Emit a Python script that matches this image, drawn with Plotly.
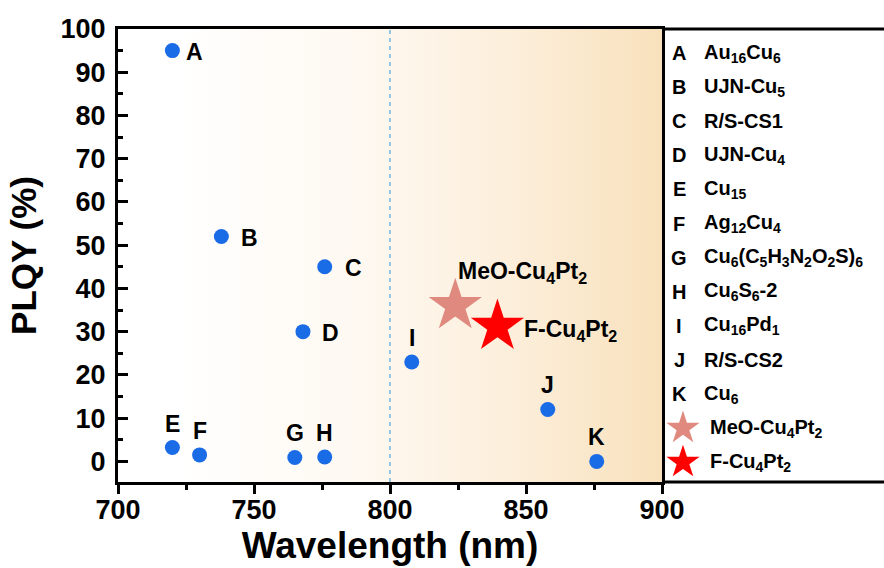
import plotly.graph_objects as go

# ---- data -------------------------------------------------------------
letters = ["A", "B", "C", "D", "E", "F", "G", "H", "I", "J", "K"]
wavelength = [720, 738, 776, 768, 720, 730, 765, 776, 808, 858, 876]
plqy = [95.0, 52.0, 45.0, 30.0, 3.2, 1.5, 0.9, 1.0, 23.0, 12.0, 0.0]
names = [
    "Au<sub>16</sub>Cu<sub>6</sub>",
    "UJN-Cu<sub>5</sub>",
    "R/S-CS1",
    "UJN-Cu<sub>4</sub>",
    "Cu<sub>15</sub>",
    "Ag<sub>12</sub>Cu<sub>4</sub>",
    "Cu<sub>6</sub>(C<sub>5</sub>H<sub>3</sub>N<sub>2</sub>O<sub>2</sub>S)<sub>6</sub>",
    "Cu<sub>6</sub>S<sub>6</sub>-2",
    "Cu<sub>16</sub>Pd<sub>1</sub>",
    "R/S-CS2",
    "Cu<sub>6</sub>",
]

star_names = ["MeO-Cu<sub>4</sub>Pt<sub>2</sub>", "F-Cu<sub>4</sub>Pt<sub>2</sub>"]
star_wavelength = [824, 839.5]
star_plqy = [36.0, 31.2]

x_ticks = [700, 750, 800, 850, 900]
y_ticks = [0, 10, 20, 30, 40, 50, 60, 70, 80, 90, 100]
divider_nm = 800          # dashed reference line
nir_band = [720, 900]     # shaded wavelength band

# ---- styles -----------------------------------------------------------
FONT = "Liberation Sans, Arial, sans-serif"
BLUE = "#1a6be6"
STAR_COLORS = ["#e0897e", "#ff0000"]
# label placement for each point: side of marker
label_side = {"A": "right", "B": "right", "C": "right", "D": "right"}
label_gap_right = {"A": 12, "B": 18, "C": 18, "D": 17}

W, H = 884, 568
ML, MT, MB = 118, 29, 86
plot_w = W - ML            # main plot + key panel
main_w = 544
legend_w = plot_w - main_w
plot_h = H - MT - MB
split = main_w / plot_w

fig = go.Figure()

# shaded band with horizontal colour gradient
x_lo, x_hi = nir_band
y_lo, y_hi = -4.77, 100
fig.add_trace(go.Scatter(
    x=[x_lo, x_hi, x_hi, x_lo, x_lo],
    y=[y_lo, y_lo, y_hi, y_hi, y_lo],
    mode="lines", line=dict(width=0),
    fill="toself",
    fillgradient=dict(
        type="horizontal",
        colorscale=[[0, "rgb(255,255,255)"], [0.4, "rgb(254,248,240)"],
                    [0.7, "rgb(252,238,218)"], [1, "rgb(248,225,188)"]],
    ),
    hoverinfo="skip", showlegend=False,
))

# literature clusters
fig.add_trace(go.Scatter(
    x=wavelength, y=plqy, mode="markers",
    marker=dict(size=15, color=BLUE, line=dict(width=0)),
    showlegend=False,
))

# this work
fig.add_trace(go.Scatter(
    x=star_wavelength, y=star_plqy, mode="markers",
    marker=dict(symbol="star", size=40, color=STAR_COLORS, line=dict(width=0)),
    showlegend=False,
))

ann = []
lab_font = dict(family=FONT, size=23, color="black", weight="bold")
for L, xv, yv in zip(letters, wavelength, plqy):
    if label_side.get(L) == "right":
        ann.append(dict(x=xv, y=yv, xref="x", yref="y", text=L, showarrow=False,
                        xanchor="left", yanchor="middle",
                        xshift=label_gap_right[L], yshift=-1, font=lab_font))
    else:
        ann.append(dict(x=xv, y=yv, xref="x", yref="y", text=L, showarrow=False,
                        xanchor="center", yanchor="middle",
                        yshift=24, font=lab_font))

# star labels
ann.append(dict(x=star_wavelength[0], y=star_plqy[0], xref="x", yref="y",
                text=star_names[0], showarrow=False, xanchor="left",
                yanchor="middle", xshift=1, yshift=33, font=lab_font))
ann.append(dict(x=star_wavelength[1], y=star_plqy[1], xref="x", yref="y",
                text=star_names[1], showarrow=False, xanchor="left",
                yanchor="middle", xshift=25, yshift=-4, font=lab_font))

# ---- key panel on the right -------------------------------------------
row_top, row_step = 53 - MT, 34.1
key_font = dict(family=FONT, size=20, color="black", weight="bold")
rows = len(letters) + len(star_names)
row_y = [row_top + i * row_step for i in range(rows)]
letter_x, name_x, star_x = 679 - ML - main_w, 702 - ML - main_w, 683 - ML - main_w

for i, (L, nm) in enumerate(zip(letters, names)):
    ann.append(dict(x=letter_x, y=row_y[i], xref="x2", yref="y2", text=L,
                    showarrow=False, xanchor="center", yanchor="middle",
                    font=key_font))
    ann.append(dict(x=name_x, y=row_y[i], xref="x2", yref="y2", text=nm,
                    showarrow=False, xanchor="left", yanchor="middle",
                    font=key_font))
for j, nm in enumerate(star_names):
    ann.append(dict(x=name_x + 6, y=row_y[len(letters) + j], xref="x2", yref="y2",
                    text=nm, showarrow=False, xanchor="left", yanchor="middle",
                    font=key_font))

fig.add_trace(go.Scatter(
    x=[star_x] * len(star_names), y=row_y[len(letters):],
    xaxis="x2", yaxis="y2", mode="markers",
    marker=dict(symbol="star", size=25, color=STAR_COLORS, line=dict(width=0)),
    showlegend=False, hoverinfo="skip",
))

tick_font = dict(family=FONT, size=27, color="black", weight="bold")
x_title_font = dict(family=FONT, size=37, color="black", weight="bold")
y_title_font = dict(family=FONT, size=35, color="black", weight="bold")

fig.update_layout(
    width=W, height=H,
    margin=dict(l=ML, r=0, t=MT, b=MB, pad=0),
    paper_bgcolor="white", plot_bgcolor="white",
    showlegend=False,
    annotations=ann,
    xaxis=dict(
        domain=[0, split], range=[700, 900], tickvals=x_ticks,
        ticks="outside", ticklen=9, tickwidth=2.5, tickcolor="black",
        minor=dict(dtick=25, ticks="outside", ticklen=5, tickwidth=2.5,
                   tickcolor="black"),
        showline=True, linewidth=3, linecolor="black", mirror=True,
        showgrid=False, zeroline=False, tickfont=tick_font,
        ticklabelstandoff=-7,
        title=dict(text="Wavelength (nm)", font=x_title_font, standoff=8),
        automargin=False,
    ),
    yaxis=dict(
        range=[y_lo, y_hi], tickvals=y_ticks,
        ticks="inside", ticklen=10, tickwidth=2.5, tickcolor="black",
        minor=dict(dtick=5, ticks="inside", ticklen=5, tickwidth=2.5,
                   tickcolor="black"),
        showline=True, linewidth=3, linecolor="black", mirror=True,
        showgrid=False, zeroline=False, tickfont=tick_font,
        ticklabelstandoff=4,
        title=dict(text="PLQY (%)", font=y_title_font, standoff=14),
        automargin=False,
    ),
    xaxis2=dict(domain=[split, 1], range=[0, legend_w], visible=False,
                fixedrange=True, anchor="y2"),
    yaxis2=dict(domain=[0, 1], range=[plot_h, 0], visible=False,
                fixedrange=True, anchor="x2"),
    shapes=[
        dict(type="line", xref="x", yref="paper", x0=divider_nm, x1=divider_nm,
             y0=0, y1=1, line=dict(color="#72b6e0", width=1.5, dash="4px,4px")),
        dict(type="line", xref="paper", yref="paper", x0=split, x1=1, y0=1, y1=1,
             line=dict(color="black", width=3)),
        dict(type="line", xref="paper", yref="paper", x0=split, x1=1, y0=0, y1=0,
             line=dict(color="black", width=3)),
    ],
)

fig.write_html("out.html")
